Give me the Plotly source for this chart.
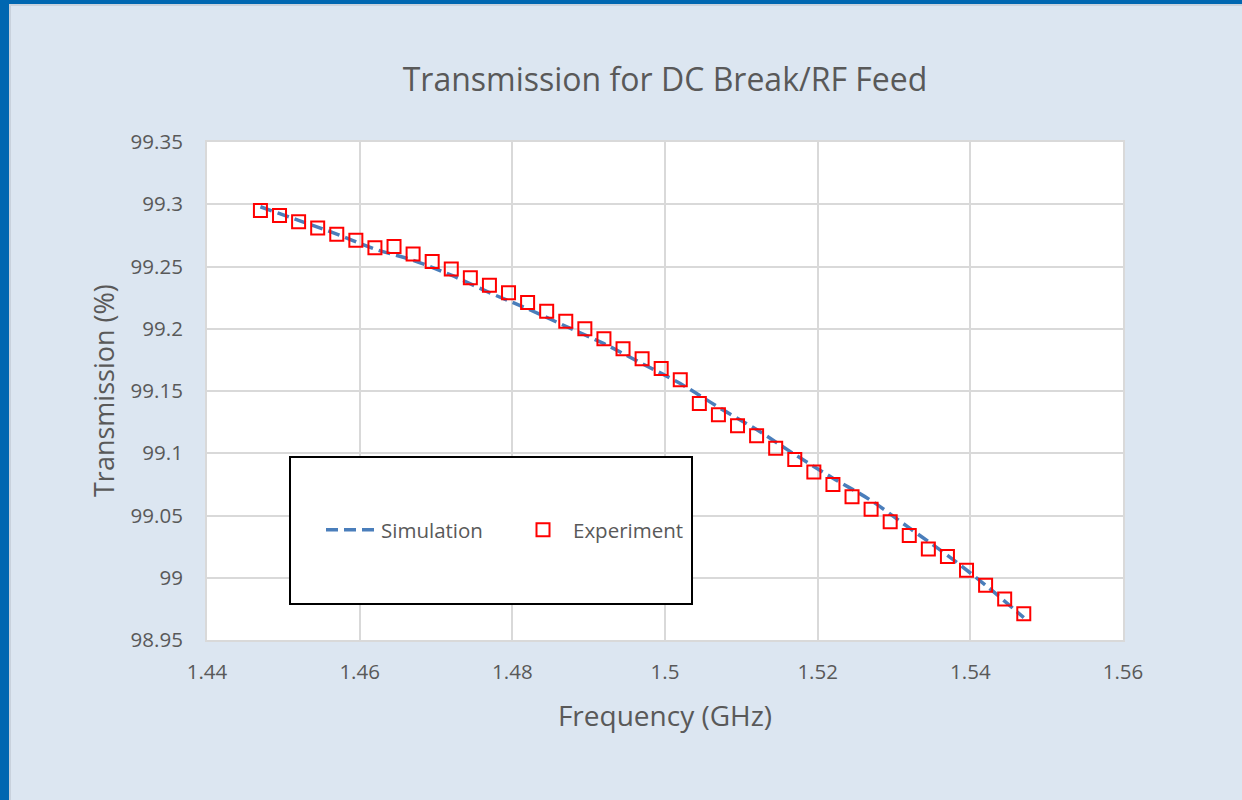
import plotly.graph_objects as go

# ---- data ----
exp_freq = [1.447, 1.4495, 1.452, 1.4545, 1.457, 1.4595, 1.462, 1.4645, 1.467, 1.4695,
            1.472, 1.4745, 1.477, 1.4795, 1.482, 1.4845, 1.487, 1.4895, 1.492, 1.4945,
            1.497, 1.4995, 1.502, 1.5045, 1.507, 1.5095, 1.512, 1.5145, 1.517, 1.5195,
            1.522, 1.5245, 1.527, 1.5295, 1.532, 1.5345, 1.537, 1.5395, 1.542, 1.5445,
            1.547]
exp_trans = [99.295, 99.291, 99.286, 99.281, 99.276, 99.271, 99.265, 99.266, 99.260, 99.254,
             99.248, 99.241, 99.235, 99.229, 99.221, 99.214, 99.206, 99.200, 99.192, 99.184,
             99.176, 99.168, 99.159, 99.140, 99.131, 99.122, 99.114, 99.104, 99.095, 99.085,
             99.075, 99.065, 99.055, 99.045, 99.034, 99.023, 99.017, 99.006, 98.994, 98.983,
             98.971]

sim_freq = [1.447, 1.452, 1.457, 1.462, 1.467, 1.472, 1.477, 1.482, 1.487, 1.492, 1.497,
            1.502, 1.507, 1.512, 1.517, 1.522, 1.527, 1.532, 1.537, 1.542, 1.547]
sim_trans = [99.298, 99.287, 99.276, 99.264, 99.255, 99.243, 99.229, 99.216, 99.202, 99.188,
             99.172, 99.156, 99.137, 99.119, 99.099, 99.080, 99.062, 99.040, 99.018, 98.994,
             98.968]

x_ticks = [1.44, 1.46, 1.48, 1.50, 1.52, 1.54, 1.56]
x_tick_labels = ["1.44", "1.46", "1.48", "1.5", "1.52", "1.54", "1.56"]
y_ticks = [98.95, 99.0, 99.05, 99.1, 99.15, 99.2, 99.25, 99.3, 99.35]
y_tick_labels = ["98.95", "99", "99.05", "99.1", "99.15", "99.2", "99.25", "99.3", "99.35"]

# ---- style ----
FONT = "Open Sans"
TXT = "#595959"
BG = "#DCE6F1"
GRID = "#D9D9D9"

L, R, T, B = 207, 119, 142, 160
PW, PH = 1242 - L - R, 800 - T - B


def px_x(p):
    return (p - L) / PW


def px_y(p):
    return (800 - B - p) / PH


fig = go.Figure()
fig.add_trace(go.Scatter(
    x=sim_freq, y=sim_trans, mode="lines", name="Simulation",
    line=dict(color="#4A7EBB", width=3.5, dash="12px,6px", shape="spline"),
))
fig.add_trace(go.Scatter(
    x=exp_freq, y=exp_trans, mode="markers", name="Experiment",
    marker=dict(symbol="square-open", size=13, color="#FF0000",
                line=dict(color="#FF0000", width=2)),
))

shapes = [
    # legend box
    dict(type="rect", xref="paper", yref="paper",
         x0=px_x(290), x1=px_x(692), y0=px_y(604), y1=px_y(457),
         fillcolor="white", line=dict(color="black", width=2), layer="above"),
    # slide border (left and top dark blue bands)
    dict(type="rect", xref="paper", yref="paper",
         x0=px_x(-5), x1=px_x(9), y0=px_y(805), y1=px_y(-5),
         fillcolor="#0067B1", line=dict(width=0), layer="below"),
    dict(type="rect", xref="paper", yref="paper",
         x0=px_x(-5), x1=px_x(1250), y0=px_y(4), y1=px_y(-5),
         fillcolor="#0067B1", line=dict(width=0), layer="below"),
    dict(type="rect", xref="paper", yref="paper",
         x0=px_x(9), x1=px_x(11), y0=px_y(805), y1=px_y(4),
         fillcolor="#C9D2DD", line=dict(width=0), layer="below"),
    dict(type="rect", xref="paper", yref="paper",
         x0=px_x(9), x1=px_x(1250), y0=px_y(6), y1=px_y(4),
         fillcolor="#C9D2DD", line=dict(width=0), layer="below"),
]

annotations = [
    dict(text="Transmission (%)", xref="paper", yref="paper",
         x=px_x(103), y=px_y(391), xanchor="center", yanchor="middle",
         textangle=-90, showarrow=False,
         font=dict(size=27, color=TXT, family=FONT)),
]

fig.update_layout(
    width=1242, height=800,
    margin=dict(l=L, r=R, t=T, b=B, pad=0),
    paper_bgcolor=BG, plot_bgcolor="white",
    font=dict(family=FONT, color=TXT, size=20),
    title=dict(text="Transmission for DC Break/RF Feed", x=0.5, xref="paper",
               xanchor="center", y=1 - 80 / 800, yref="container", yanchor="middle",
               font=dict(family=FONT, size=32, color=TXT)),
    xaxis=dict(
        range=[1.44, 1.56], tickvals=x_ticks, ticktext=x_tick_labels,
        showgrid=True, gridcolor=GRID, gridwidth=2,
        showline=True, linecolor=GRID, linewidth=2, mirror=True,
        zeroline=False, ticks="", ticklabelstandoff=12,
        tickfont=dict(size=20.5, color=TXT, family=FONT),
        title=dict(text="Frequency (GHz)", standoff=23,
                   font=dict(size=28, color=TXT, family=FONT)),
    ),
    yaxis=dict(
        range=[98.95, 99.35], tickvals=y_ticks, ticktext=y_tick_labels,
        showgrid=True, gridcolor=GRID, gridwidth=2,
        showline=True, linecolor=GRID, linewidth=2, mirror=True,
        zeroline=False, ticks="", ticklabelstandoff=18,
        tickfont=dict(size=20.5, color=TXT, family=FONT),
    ),
    legend=dict(
        orientation="h", x=px_x(321), xanchor="left", y=px_y(530), yanchor="middle",
        bgcolor="rgba(0,0,0,0)", borderwidth=0,
        font=dict(size=20.5, color=TXT, family=FONT),
        itemwidth=50, entrywidth=127, entrywidthmode="pixels",
    ),
    shapes=shapes,
    annotations=annotations,
)

fig.write_html("out.html", config={"displayModeBar": False},
               post_script="document.body.style.margin='0';")
